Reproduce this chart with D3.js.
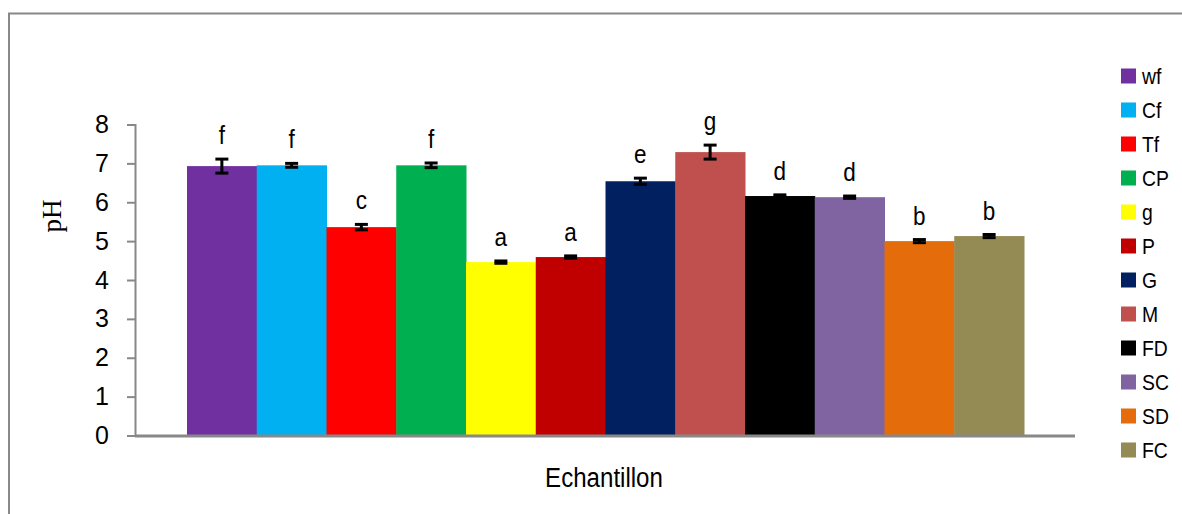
<!DOCTYPE html>
<html>
<head>
<meta charset="utf-8">
<script src="https://cdn.jsdelivr.net/npm/d3@7"></script>
<style>
  body { margin: 0; background: #fff; }
  text { font-family: "Liberation Sans", Arial, sans-serif; fill: #000; }
</style>
</head>
<body>
<svg id="chart" width="1182" height="514"></svg>
<script>
// samples, mean pH, error, letter groups
var samples = ["wf", "Cf", "Tf", "CP", "g", "P", "G", "M", "FD", "SC", "SD", "FC"]
var phValues = [6.93, 6.95, 5.36, 6.95, 4.46, 4.59, 6.54, 7.29, 6.16, 6.13, 5.00, 5.13]
var phErrors = [0.18, 0.05, 0.07, 0.06, 0.03, 0.03, 0.08, 0.18, 0.03, 0.03, 0.04, 0.04]
var letters = ["f", "f", "c", "f", "a", "a", "e", "g", "d", "d", "b", "b"]
var colors = ["#7030A0", "#00B0F0", "#FF0000", "#00B050", "#FFFF00", "#C00000",
              "#002060", "#C0504D", "#000000", "#8064A2", "#E46C0A", "#948A54"]
var yTicks = [0, 1, 2, 3, 4, 5, 6, 7, 8]

var svg = d3.select("#chart")

// outer frame (cut off on right and bottom)
svg.append("rect")
    .attr("x", 9).attr("y", 13.5)
    .attr("width", 1300).attr("height", 600)
    .attr("fill", "none")
    .attr("stroke", "#888")
    .attr("stroke-width", 2)

var axisLeft = 135, axisRight = 1075
var yScale = d3.scaleLinear().domain([0, 8]).range([435.5, 124.5])
var xScale = d3.scaleBand().domain(samples).range([187, 1024]).padding(0)

// bars
svg.selectAll(".bar")
    .data(samples)
    .enter()
    .append("rect")
    .attr("class", "bar")
    .attr("x", d => xScale(d))
    .attr("width", xScale.bandwidth() + 0.5)
    .attr("y", (d, i) => yScale(phValues[i]))
    .attr("height", (d, i) => yScale(0) - yScale(phValues[i]))
    .attr("fill", (d, i) => colors[i])

// error bars
var err = svg.selectAll(".err")
    .data(samples)
    .enter()
    .append("g")
    .attr("class", "err")
    .attr("transform", d => "translate(" + (xScale(d) + xScale.bandwidth() / 2) + ",0)")

err.append("line")
    .attr("x1", 0).attr("x2", 0)
    .attr("y1", (d, i) => yScale(phValues[i] + phErrors[i]))
    .attr("y2", (d, i) => yScale(phValues[i] - phErrors[i]))
    .attr("stroke", "#000").attr("stroke-width", 3)

err.selectAll(".cap")
    .data((d, i) => [phValues[i] + phErrors[i], phValues[i] - phErrors[i]])
    .enter()
    .append("line")
    .attr("x1", -6.5).attr("x2", 6.5)
    .attr("y1", d => yScale(d)).attr("y2", d => yScale(d))
    .attr("stroke", "#000").attr("stroke-width", 3)

// significance letters (slightly condensed like the original)
svg.selectAll(".letter")
    .data(samples)
    .enter()
    .append("g")
    .attr("class", "letter")
    .attr("transform", (d, i) => "translate(" + (xScale(d) + xScale.bandwidth() / 2) + ","
        + (yScale(phValues[i] + phErrors[i]) - 15) + ")")
    .append("text")
    .attr("transform", "scale(0.9,1)")
    .attr("text-anchor", "middle")
    .style("font-size", "25px")
    .text((d, i) => letters[i])

// y axis
var axisY = d3.axisLeft(yScale).tickValues(yTicks).tickSize(8).tickPadding(18)
var gy = svg.append("g")
    .attr("transform", "translate(" + axisLeft + ",0)")
    .call(axisY)
gy.select(".domain").attr("stroke", "#888").attr("stroke-width", 2)
gy.selectAll(".tick line").attr("stroke", "#888").attr("stroke-width", 2)
gy.selectAll(".tick text")
    .style("font-size", "25px")
    .style("font-family", "'Liberation Sans', Arial, sans-serif")
    .attr("fill", "#000")

// x axis baseline
svg.append("line")
    .attr("x1", axisLeft).attr("x2", axisRight)
    .attr("y1", yScale(0) + 0.5).attr("y2", yScale(0) + 0.5)
    .attr("stroke", "#888").attr("stroke-width", 3)

// axis titles
svg.append("g")
    .attr("transform", "translate(604,487)")
    .append("text")
    .attr("transform", "scale(0.86,1)")
    .attr("text-anchor", "middle")
    .style("font-size", "28px")
    .text("Echantillon")

svg.append("text")
    .attr("transform", "translate(61,216) rotate(-90)")
    .attr("text-anchor", "middle")
    .style("font-family", "'Liberation Serif', 'Times New Roman', serif")
    .style("font-size", "27px")
    .text("pH")

// legend
var legend = svg.selectAll(".legend")
    .data(samples)
    .enter()
    .append("g")
    .attr("class", "legend")
    .attr("transform", (d, i) => "translate(1121," + (76 + i * 34) + ")")

legend.append("rect")
    .attr("x", 0).attr("y", -7.5)
    .attr("width", 15).attr("height", 15)
    .attr("fill", (d, i) => colors[i])

legend.append("g")
    .attr("transform", "translate(21,8)")
    .append("text")
    .attr("transform", "scale(0.88,1)")
    .style("font-size", "22px")
    .text(d => d)
</script>
</body>
</html>
